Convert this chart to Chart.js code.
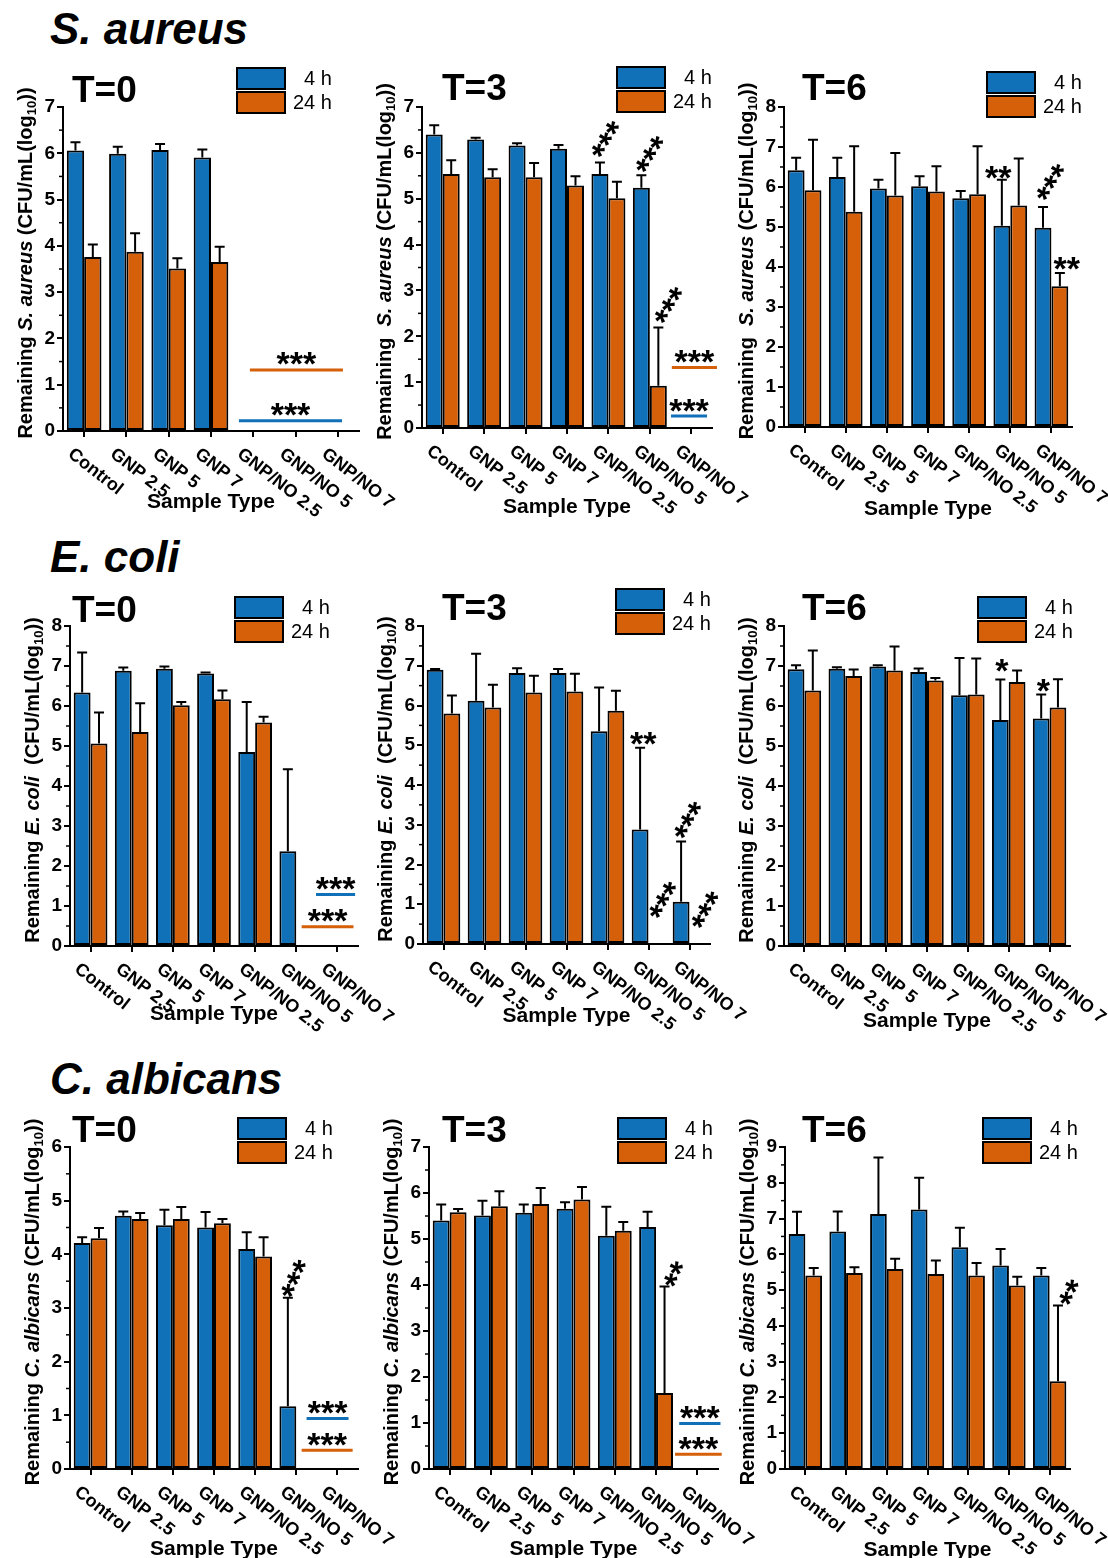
<!DOCTYPE html>
<html>
<head>
<meta charset="utf-8">
<script src="https://cdn.jsdelivr.net/npm/chart.js@4.4.1/dist/chart.umd.min.js"></script>
<style>
  html, body { margin:0; padding:0; background:#fff; }
  body { width:1108px; height:1558px; position:relative; overflow:hidden; font-family:"Liberation Sans", Arial, sans-serif; }
  .sec { position:absolute; left:50px; margin:0; font:italic bold 44px "Liberation Sans", Arial, sans-serif; line-height:1; color:#000; white-space:nowrap; }
  canvas { position:absolute; }
</style>
</head>
<body>
<div class="sec" id="sec0" style="top:7px"></div>
<div class="sec" id="sec1" style="top:535px"></div>
<div class="sec" id="sec2" style="top:1057px"></div>

<script>
// ---------------- DATA ----------------
const organisms = ['S. aureus', 'E. coli', 'C. albicans'];
const timepoints = ['T=0', 'T=3', 'T=6'];
const categories = ['Control', 'GNP 2.5', 'GNP 5', 'GNP 7', 'GNP/NO 2.5', 'GNP/NO 5', 'GNP/NO 7'];
const seriesLabels = ['4 h', '24 h'];
const xAxisTitle = 'Sample Type';
const yMaxValues = [7, 7, 8, 8, 8, 8, 6, 7, 9];

// S. aureus
const saT0_4h     = [6.06, 5.99, 6.07, 5.91, 0, 0, 0];
const saT0_4hErr  = [0.18, 0.15, 0.13, 0.17, 0, 0, 0];
const saT0_24h    = [3.76, 3.87, 3.51, 3.65, 0, 0, 0];
const saT0_24hErr = [0.27, 0.40, 0.22, 0.33, 0, 0, 0];

const saT3_4h     = [6.40, 6.29, 6.16, 6.09, 5.54, 5.24, 0];
const saT3_4hErr  = [0.20, 0.04, 0.05, 0.08, 0.25, 0.27, 0];
const saT3_24h    = [5.54, 5.47, 5.47, 5.29, 5.01, 0.92, 0];
const saT3_24hErr = [0.30, 0.17, 0.31, 0.20, 0.36, 1.27, 0];

const saT6_4h     = [6.42, 6.25, 5.96, 6.02, 5.72, 5.03, 4.98];
const saT6_4hErr  = [0.31, 0.48, 0.22, 0.25, 0.18, 1.15, 0.52];
const saT6_24h    = [5.92, 5.38, 5.79, 5.89, 5.82, 5.54, 3.52];
const saT6_24hErr = [1.26, 1.64, 1.06, 0.63, 1.20, 1.17, 0.33];

// E. coli
const ecT0_4h     = [6.34, 6.88, 6.93, 6.81, 4.85, 2.37, 0];
const ecT0_4hErr  = [1.00, 0.08, 0.06, 0.03, 1.25, 2.05, 0];
const ecT0_24h    = [5.06, 5.35, 6.02, 6.17, 5.59, 0, 0];
const ecT0_24hErr = [0.78, 0.72, 0.08, 0.22, 0.14, 0, 0];

const ecT3_4h     = [6.90, 6.12, 6.82, 6.82, 5.35, 2.88, 1.06];
const ecT3_4hErr  = [0.02, 1.18, 0.12, 0.10, 1.10, 2.06, 1.52];
const ecT3_24h    = [5.80, 5.95, 6.33, 6.35, 5.87, 0, 0];
const ecT3_24hErr = [0.45, 0.57, 0.42, 0.45, 0.50, 0, 0];

const ecT6_4h     = [6.92, 6.93, 6.99, 6.85, 6.27, 5.65, 5.69];
const ecT6_4hErr  = [0.10, 0.04, 0.03, 0.09, 0.93, 1.01, 0.60];
const ecT6_24h    = [6.39, 6.75, 6.89, 6.64, 6.29, 6.60, 5.96];
const ecT6_24hErr = [1.00, 0.16, 0.60, 0.06, 0.90, 0.29, 0.71];

// C. albicans
const caT0_4h     = [4.21, 4.72, 4.54, 4.50, 4.10, 1.17, 0];
const caT0_4hErr  = [0.11, 0.08, 0.29, 0.29, 0.31, 2.02, 0];
const caT0_24h    = [4.30, 4.66, 4.66, 4.58, 3.96, 0, 0];
const caT0_24hErr = [0.19, 0.11, 0.22, 0.08, 0.36, 0, 0];

const caT3_4h     = [5.40, 5.51, 5.57, 5.66, 5.07, 5.26, 0];
const caT3_4hErr  = [0.35, 0.32, 0.18, 0.14, 0.63, 0.33, 0];
const caT3_24h    = [5.58, 5.71, 5.76, 5.86, 5.18, 1.65, 0];
const caT3_24hErr = [0.07, 0.33, 0.35, 0.27, 0.19, 2.32, 0];

const caT6_4h     = [6.57, 6.64, 7.13, 7.25, 6.20, 5.69, 5.41];
const caT6_4hErr  = [0.62, 0.56, 1.58, 0.89, 0.54, 0.46, 0.21];
const caT6_24h    = [5.41, 5.48, 5.59, 5.45, 5.41, 5.13, 2.45];
const caT6_24hErr = [0.21, 0.16, 0.29, 0.38, 0.35, 0.24, 2.12];

// Significance: lines (series colour, value, category span) and star marks (category position, value)
const saT0_sigLines = [{series:1, y:1.32, from:3.92, to:6.12, text:'***'}, {series:0, y:0.22, from:3.66, to:6.10, text:'***'}];
const saT0_sigMarks = [];
const saT3_sigLines = [{series:1, y:1.32, from:5.53, to:6.62, text:'***'}, {series:0, y:0.26, from:5.51, to:6.38, text:'***'}];
const saT3_sigMarks = [{text:'***', x:3.93, y:6.30, rot:-58}, {text:'***', x:5.00, y:5.97, rot:-58}, {text:'***', x:5.45, y:2.68, rot:-58}];
const saT6_sigLines = [];
const saT6_sigMarks = [{text:'**', x:4.71, y:6.37, rot:0}, {text:'***', x:5.98, y:6.12, rot:-58}, {text:'**', x:6.37, y:4.09, rot:0}];
const ecT0_sigLines = [{series:0, y:1.29, from:5.48, to:6.43, text:'***'}, {series:1, y:0.48, from:5.13, to:6.39, text:'***'}];
const ecT0_sigMarks = [];
const ecT3_sigLines = [];
const ecT3_sigMarks = [{text:'**', x:4.87, y:5.18, rot:0}, {text:'***', x:5.35, y:1.11, rot:-60}, {text:'***', x:5.96, y:3.12, rot:-60}, {text:'***', x:6.38, y:0.86, rot:-60}];
const ecT6_sigLines = [];
const ecT6_sigMarks = [{text:'*', x:4.83, y:7.02, rot:0}, {text:'*', x:5.85, y:6.52, rot:0}];
const caT0_sigLines = [{series:0, y:0.94, from:5.25, to:6.27, text:'***'}, {series:1, y:0.35, from:5.13, to:6.37, text:'***'}];
const caT0_sigMarks = [{text:'***', x:4.94, y:3.55, rot:-65}];
const caT3_sigLines = [{series:0, y:0.99, from:5.56, to:6.56, text:'***'}, {series:1, y:0.32, from:5.46, to:6.59, text:'***'}];
const caT3_sigMarks = [{text:'**', x:5.43, y:4.24, rot:-65}];
const caT6_sigLines = [];
const caT6_sigMarks = [{text:'**', x:6.48, y:4.94, rot:-65}];

// ---------------- STYLE / LAYOUT ----------------
const COLORS = ['#1071b8', '#d65f0a'];
const FAMILY = '"Liberation Sans", Arial, sans-serif';

const panels = [
  {org:0, tp:0, yMax:yMaxValues[0], d:[saT0_4h, saT0_24h], e:[saT0_4hErr, saT0_24hErr], lines:saT0_sigLines, marks:saT0_sigMarks,
   canvas:[0,55,420,480], area:[63,107,359,431], legend:[237,68], title:[72,102], xTitleDy:77, gap:' '},
  {org:0, tp:1, yMax:yMaxValues[1], d:[saT3_4h, saT3_24h], e:[saT3_4hErr, saT3_24hErr], lines:saT3_sigLines, marks:saT3_sigMarks,
   canvas:[365,55,420,480], area:[422,107,712,428], legend:[617,67], title:[442,100], xTitleDy:85, gap:'  '},
  {org:0, tp:2, yMax:yMaxValues[2], d:[saT6_4h, saT6_24h], e:[saT6_4hErr, saT6_24hErr], lines:saT6_sigLines, marks:saT6_sigMarks,
   canvas:[730,55,378,480], area:[784,107,1072,427], legend:[987,72], title:[802,100], xTitleDy:88, gap:'  '},
  {org:1, tp:0, yMax:yMaxValues[3], d:[ecT0_4h, ecT0_24h], e:[ecT0_4hErr, ecT0_24hErr], lines:ecT0_sigLines, marks:ecT0_sigMarks,
   canvas:[0,575,420,480], area:[70,626,358,946], legend:[235,597], title:[72,622], xTitleDy:74, gap:' '},
  {org:1, tp:1, yMax:yMaxValues[4], d:[ecT3_4h, ecT3_24h], e:[ecT3_4hErr, ecT3_24hErr], lines:ecT3_sigLines, marks:ecT3_sigMarks,
   canvas:[365,575,420,480], area:[423,626,710,944], legend:[616,589], title:[442,620], xTitleDy:78, gap:' '},
  {org:1, tp:2, yMax:yMaxValues[5], d:[ecT6_4h, ecT6_24h], e:[ecT6_4hErr, ecT6_24hErr], lines:ecT6_sigLines, marks:ecT6_sigMarks,
   canvas:[730,575,378,480], area:[784,626,1070,946], legend:[978,597], title:[802,620], xTitleDy:81, gap:' '},
  {org:2, tp:0, yMax:yMaxValues[6], d:[caT0_4h, caT0_24h], e:[caT0_4hErr, caT0_24hErr], lines:caT0_sigLines, marks:caT0_sigMarks,
   canvas:[0,1100,420,458], area:[70,1147,358,1469], legend:[238,1118], title:[72,1142], xTitleDy:86, gap:' '},
  {org:2, tp:1, yMax:yMaxValues[7], d:[caT3_4h, caT3_24h], e:[caT3_4hErr, caT3_24hErr], lines:caT3_sigLines, marks:caT3_sigMarks,
   canvas:[365,1100,420,458], area:[429,1147,718,1469], legend:[618,1118], title:[442,1142], xTitleDy:86, gap:' '},
  {org:2, tp:2, yMax:yMaxValues[8], d:[caT6_4h, caT6_24h], e:[caT6_4hErr, caT6_24hErr], lines:caT6_sigLines, marks:caT6_sigMarks,
   canvas:[730,1100,378,458], area:[785,1147,1070,1469], legend:[983,1118], title:[802,1142], xTitleDy:87, gap:' '}
];

organisms.forEach((o, i) => { document.getElementById('sec' + i).textContent = o; });

function drawStars(ctx, text, cx, cy, rotDeg) {
  ctx.save();
  ctx.translate(cx, cy);
  ctx.rotate(rotDeg * Math.PI / 180);
  ctx.font = 'bold 34px ' + FAMILY;
  ctx.fillStyle = '#000';
  ctx.textAlign = 'center';
  ctx.textBaseline = 'alphabetic';
  const m = ctx.measureText(text);
  const asc = m.actualBoundingBoxAscent, desc = m.actualBoundingBoxDescent;
  ctx.fillText(text, 0, (asc - desc) / 2);
  ctx.restore();
}

function drawYTitle(ctx, p, cx, cy) {
  const fs = 20;
  const B = 'bold ' + fs + 'px ' + FAMILY;
  const BI = 'italic bold ' + fs + 'px ' + FAMILY;
  const SUB = 'bold 13px ' + FAMILY;
  const orgName = organisms[p.org];
  const after = p.org === 1 ? '  (CFU/mL(log' : ' (CFU/mL(log';
  const segs = [
    {t:'Remaining' + p.gap, f:B, dy:0},
    {t:orgName, f:BI, dy:0},
    {t:after, f:B, dy:0},
    {t:'10', f:SUB, dy:4},
    {t:'))', f:B, dy:0}
  ];
  let total = 0;
  segs.forEach(s => { ctx.font = s.f; s.w = ctx.measureText(s.t).width; total += s.w; });
  ctx.save();
  ctx.translate(cx + 0.36 * fs, cy);
  ctx.rotate(-Math.PI / 2);
  ctx.fillStyle = '#000';
  ctx.textAlign = 'left';
  ctx.textBaseline = 'alphabetic';
  let x = -total / 2;
  segs.forEach(s => { ctx.font = s.f; ctx.fillText(s.t, x, s.dy); x += s.w; });
  ctx.restore();
}

const decorPlugin = {
  id: 'decor',
  afterDatasetsDraw(chart) {
    const p = chart.$panel;
    const ctx = chart.ctx;
    const xs = chart.scales.x, ys = chart.scales.y;
    // error bars (upper)
    ctx.save();
    ctx.strokeStyle = '#000';
    ctx.lineWidth = 2;
    [0, 1].forEach(di => {
      const meta = chart.getDatasetMeta(di);
      meta.data.forEach((bar, i) => {
        const v = p.d[di][i], e = p.e[di][i];
        if (!e) return;
        const x = bar.x;
        const y0 = ys.getPixelForValue(v);
        const y1 = ys.getPixelForValue(v + e);
        ctx.beginPath();
        ctx.moveTo(x, y0); ctx.lineTo(x, y1);
        ctx.moveTo(x - 5, y1); ctx.lineTo(x + 5, y1);
        ctx.stroke();
      });
    });
    ctx.restore();
    // significance lines
    p.lines.forEach(L => {
      const x0 = xs.getPixelForValue(L.from), x1 = xs.getPixelForValue(L.to);
      const y = ys.getPixelForValue(L.y);
      ctx.save();
      ctx.strokeStyle = COLORS[L.series];
      ctx.lineWidth = 3;
      ctx.beginPath(); ctx.moveTo(x0, y); ctx.lineTo(x1, y); ctx.stroke();
      ctx.restore();
      drawStars(ctx, L.text, (x0 + x1) / 2, y - 11, 0);
    });
    p.marks.forEach(M => {
      drawStars(ctx, M.text, xs.getPixelForValue(M.x), ys.getPixelForValue(M.y), M.rot);
    });
  },
  afterDraw(chart) {
    const p = chart.$panel;
    const ctx = chart.ctx;
    const xs = chart.scales.x, ys = chart.scales.y;
    const ca = chart.chartArea;
    const ox = p.canvas[0], oy = p.canvas[1];
    // minor y ticks
    ctx.save();
    ctx.strokeStyle = '#000';
    ctx.lineWidth = 1.5;
    for (let v = 0.5; v < p.yMax; v += 1) {
      const y = ys.getPixelForValue(v);
      ctx.beginPath(); ctx.moveTo(ca.left, y); ctx.lineTo(ca.left - 4, y); ctx.stroke();
    }
    ctx.restore();
    // x tick labels (rotated)
    ctx.save();
    ctx.fillStyle = '#000';
    ctx.font = 'bold 18px ' + FAMILY;
    ctx.textAlign = 'left';
    ctx.textBaseline = 'middle';
    categories.forEach((c, i) => {
      const x = xs.getPixelForValue(i);
      ctx.save();
      ctx.translate(x - 14, ca.bottom + 21);
      ctx.rotate(38 * Math.PI / 180);
      ctx.fillText(c, 0, 0);
      ctx.restore();
    });
    ctx.restore();
    // x title
    ctx.save();
    ctx.fillStyle = '#000';
    ctx.font = 'bold 21px ' + FAMILY;
    ctx.textAlign = 'center';
    ctx.textBaseline = 'alphabetic';
    ctx.fillText(xAxisTitle, (ca.left + ca.right) / 2, ca.bottom + p.xTitleDy);
    ctx.restore();
    // y title
    drawYTitle(ctx, p, ca.left - 38, (ca.top + ca.bottom) / 2 - 6);
    // panel title
    ctx.save();
    ctx.fillStyle = '#000';
    ctx.font = 'bold 37px ' + FAMILY;
    ctx.textAlign = 'left';
    ctx.textBaseline = 'alphabetic';
    ctx.fillText(timepoints[p.tp], p.title[0] - ox, p.title[1] - oy);
    ctx.restore();
    // legend
    const lx = p.legend[0] - ox, ly = p.legend[1] - oy;
    const bw = 48, bh = 21, gap = 3;
    ctx.save();
    ctx.font = '20px ' + FAMILY;
    const textRight = lx + bw + 8 + ctx.measureText(seriesLabels[1]).width;
    seriesLabels.forEach((s, i) => {
      const y = ly + i * (bh + gap);
      ctx.fillStyle = COLORS[i];
      ctx.fillRect(lx, y, bw, bh);
      ctx.strokeStyle = '#000';
      ctx.lineWidth = 2;
      ctx.strokeRect(lx, y, bw, bh);
      ctx.fillStyle = '#000';
      ctx.textAlign = 'right';
      ctx.textBaseline = 'middle';
      ctx.fillText(s, textRight, y + bh / 2 + 1);
    });
    ctx.restore();
  }
};

const XH = 20;
panels.forEach((p, idx) => {
  const [cx, cy, cw, ch] = p.canvas;
  const [l, t, r, b] = p.area;
  const cv = document.createElement('canvas');
  cv.width = cw; cv.height = ch;
  cv.style.left = cx + 'px'; cv.style.top = cy + 'px';
  cv.style.width = cw + 'px'; cv.style.height = ch + 'px';
  document.body.appendChild(cv);
  const chart = new Chart(cv, {
    type: 'bar',
    data: {
      labels: categories,
      datasets: [0, 1].map(i => ({
        label: seriesLabels[i],
        data: p.d[i],
        backgroundColor: COLORS[i],
        borderColor: '#000',
        borderWidth: c => (c.raw ? 2 : 0),
        borderSkipped: false,
        categoryPercentage: 0.82,
        barPercentage: 1.0
      }))
    },
    options: {
      responsive: false,
      animation: false,
      devicePixelRatio: 1,
      events: [],
      layout: { padding: { left: 0, top: t - cy, right: cx + cw - r, bottom: cy + ch - b - XH } },
      plugins: { legend: { display: false }, tooltip: { enabled: false }, title: { display: false } },
      scales: {
        x: {
          type: 'category',
          offset: true,
          grid: { offset: false, drawOnChartArea: false, drawTicks: true, tickLength: 6, color: '#000', lineWidth: 2 },
          border: { display: true, color: '#000', width: 2 },
          ticks: { display: false },
          afterFit: s => { s.height = XH; }
        },
        y: {
          min: 0, max: p.yMax,
          grid: { drawOnChartArea: false, drawTicks: true, tickLength: 6, color: '#000', lineWidth: 2 },
          border: { display: true, color: '#000', width: 2 },
          ticks: { stepSize: 1, color: '#000', padding: 2, font: { family: FAMILY, size: 19, weight: 'bold' } },
          afterFit: s => { s.width = l - cx; }
        }
      }
    },
    plugins: [{ id: 'panelRef', beforeInit(c) { c.$panel = p; } }, decorPlugin]
  });
});
</script>
</body>
</html>
